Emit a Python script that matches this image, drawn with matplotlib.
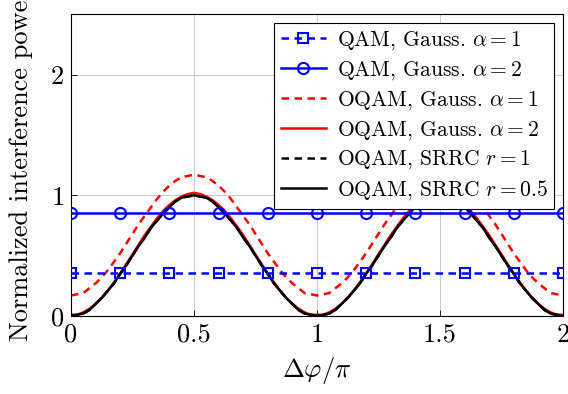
import matplotlib
matplotlib.use("Agg")
import matplotlib.pyplot as plt
import numpy as np

plt.rcParams['font.family'] = ['cmr10', 'DejaVu Serif']
plt.rcParams['mathtext.fontset'] = 'cm'
plt.rcParams['axes.formatter.use_mathtext'] = True

# phase offset (units of pi), step 0.025
dphi = np.round(np.linspace(0, 2, 81), 3)

qam_g1 = [0.36] * len(dphi)
qam_g2 = [0.85] * len(dphi)

oqam_g1 = [0.17, 0.18, 0.19, 0.23, 0.27, 0.32, 0.38, 0.45, 0.52, 0.60, 0.68,
           0.76, 0.83, 0.90, 0.97, 1.03, 1.08, 1.12, 1.15, 1.16, 1.17,
           1.16, 1.15, 1.12, 1.08, 1.03, 0.97, 0.90, 0.83, 0.76, 0.68,
           0.60, 0.52, 0.45, 0.38, 0.32, 0.27, 0.23, 0.19, 0.18, 0.17,
           0.18, 0.19, 0.23, 0.27, 0.32, 0.38, 0.45, 0.52, 0.60, 0.68,
           0.76, 0.83, 0.90, 0.97, 1.03, 1.08, 1.12, 1.15, 1.16, 1.17,
           1.16, 1.15, 1.12, 1.08, 1.03, 0.97, 0.90, 0.83, 0.76, 0.68,
           0.60, 0.52, 0.45, 0.38, 0.32, 0.27, 0.23, 0.19, 0.18, 0.17]
oqam_g2 = [0.01, 0.01, 0.03, 0.06, 0.10, 0.15, 0.21, 0.28, 0.35, 0.43, 0.51,
           0.59, 0.67, 0.74, 0.81, 0.87, 0.92, 0.96, 0.99, 1.01, 1.02,
           1.01, 0.99, 0.96, 0.92, 0.87, 0.81, 0.74, 0.67, 0.59, 0.51,
           0.43, 0.35, 0.28, 0.21, 0.15, 0.10, 0.06, 0.03, 0.01, 0.01,
           0.01, 0.03, 0.06, 0.10, 0.15, 0.21, 0.28, 0.35, 0.43, 0.51,
           0.59, 0.67, 0.74, 0.81, 0.87, 0.92, 0.96, 0.99, 1.01, 1.02,
           1.01, 0.99, 0.96, 0.92, 0.87, 0.81, 0.74, 0.67, 0.59, 0.51,
           0.43, 0.35, 0.28, 0.21, 0.15, 0.10, 0.06, 0.03, 0.01, 0.01]
oqam_srrc1 = [0.00, 0.01, 0.02, 0.05, 0.10, 0.15, 0.21, 0.27, 0.35, 0.42, 0.50,
              0.58, 0.65, 0.73, 0.79, 0.85, 0.90, 0.95, 0.98, 0.99, 1.00,
              0.99, 0.98, 0.95, 0.90, 0.85, 0.79, 0.73, 0.65, 0.58, 0.50,
              0.42, 0.35, 0.27, 0.21, 0.15, 0.10, 0.05, 0.02, 0.01, 0.00,
              0.01, 0.02, 0.05, 0.10, 0.15, 0.21, 0.27, 0.35, 0.42, 0.50,
              0.58, 0.65, 0.73, 0.79, 0.85, 0.90, 0.95, 0.98, 0.99, 1.00,
              0.99, 0.98, 0.95, 0.90, 0.85, 0.79, 0.73, 0.65, 0.58, 0.50,
              0.42, 0.35, 0.27, 0.21, 0.15, 0.10, 0.05, 0.02, 0.01, 0.00]
oqam_srrc05 = [0.00, 0.01, 0.02, 0.05, 0.10, 0.15, 0.21, 0.27, 0.35, 0.42, 0.50,
               0.58, 0.65, 0.73, 0.79, 0.85, 0.90, 0.95, 0.98, 0.99, 1.00,
               0.99, 0.98, 0.95, 0.90, 0.85, 0.79, 0.73, 0.65, 0.58, 0.50,
               0.42, 0.35, 0.27, 0.21, 0.15, 0.10, 0.05, 0.02, 0.01, 0.00,
               0.01, 0.02, 0.05, 0.10, 0.15, 0.21, 0.27, 0.35, 0.42, 0.50,
               0.58, 0.65, 0.73, 0.79, 0.85, 0.90, 0.95, 0.98, 0.99, 1.00,
               0.99, 0.98, 0.95, 0.90, 0.85, 0.79, 0.73, 0.65, 0.58, 0.50,
               0.42, 0.35, 0.27, 0.21, 0.15, 0.10, 0.05, 0.02, 0.01, 0.00]

labels = [r'QAM, Gauss. $\alpha = 1$', r'QAM, Gauss. $\alpha = 2$',
          r'OQAM, Gauss. $\alpha = 1$', r'OQAM, Gauss. $\alpha = 2$',
          r'OQAM, SRRC $r = 1$', r'OQAM, SRRC $r = 0.5$']
xticks = [0, 0.5, 1, 1.5, 2]
xticklabels = ['0', '0.5', '1', '1.5', '2']
yticks = [0, 1, 2]

fig = plt.figure(figsize=(5.68, 3.94), dpi=100)
ax = fig.add_axes([0.125, 0.198, 0.866, 0.766])

lw = 1.8
dash = (0, (3, 2.2))
ax.plot(dphi, qam_g1, color='blue', ls=dash, lw=lw, marker='s', ms=7,
        mfc='none', mew=1.5, markevery=8, label=labels[0], zorder=5)
ax.plot(dphi, qam_g2, color='blue', ls='-', lw=lw, marker='o', ms=8,
        mfc='none', mew=1.5, markevery=8, label=labels[1], zorder=5)
ax.plot(dphi, oqam_g1, color='red', ls=dash, lw=lw, label=labels[2])
ax.plot(dphi, oqam_g2, color='red', ls='-', lw=lw, label=labels[3])
ax.plot(dphi, oqam_srrc1, color='black', ls=dash, lw=lw, label=labels[4])
ax.plot(dphi, oqam_srrc05, color='black', ls='-', lw=lw, label=labels[5])

ax.set_xlim(0, 2)
ax.set_ylim(0, 2.5)
ax.set_xticks(xticks)
ax.set_xticklabels(xticklabels)
ax.set_yticks(yticks)
ax.tick_params(direction='in', labelsize=19, length=4, width=0.6, pad=5)
ax.grid(True, color='#c8c8c8', lw=0.7)
for s in ax.spines.values():
    s.set_linewidth(0.8)

ax.set_xlabel(r'$\Delta\varphi/\pi$', fontsize=19, labelpad=6)
# long label runs past the top edge, as in the original
ax.set_ylabel('Normalized interference power', fontsize=19, labelpad=12)

leg = ax.legend(loc='upper right', fontsize=15.5, frameon=True, fancybox=False,
                edgecolor='black', framealpha=1, handlelength=2.1,
                labelspacing=0.33, borderpad=0.3, handletextpad=0.5,
                borderaxespad=0.4)
leg.get_frame().set_linewidth(0.8)

fig.savefig('out.png', dpi=100)
